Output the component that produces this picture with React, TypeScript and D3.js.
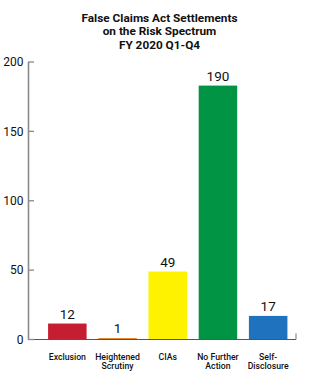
import React from "react";
import * as d3 from "d3";

const titleLines = ["False Claims Act Settlements", "on the Risk Spectrum", "FY 2020 Q1-Q4"];
const categories = ["Exclusion", "Heightened\nScrutiny", "CIAs", "No Further\nAction", "Self-\nDisclosure"];
const values = [11.5, 1, 49, 183, 17];
const valueLabels = ["12", "1", "49", "190", "17"];
const colors = ["#c41e30", "#e07a1c", "#fff200", "#009444", "#1f72bd"];
const yTicks = [0, 50, 100, 150, 200];

const W = 320;
const H = 376;

export default function App() {
  const x = d3
    .scaleBand<string>()
    .domain(categories)
    .range([28, 307.5])
    .paddingInner(0.233)
    .paddingOuter(0.4);
  const y = d3.scaleLinear().domain([0, 200]).range([339.5, 62]);
  const axisColor = "#8a8a8a";

  return (
    <svg
      width={W}
      height={H}
      style={{ position: "absolute", left: 0, top: 0, background: "#fff" }}
      fontFamily="Roboto, 'Noto Sans', sans-serif"
    >
      {titleLines.map((t, i) => (
        <text
          key={t}
          x={159.5}
          y={21.8 + i * 13.4}
          textAnchor="middle"
          fontSize={11.8}
          fontWeight={700}
          fill="#111"
        >
          {t}
        </text>
      ))}

      {categories.map((c, i) => (
        <rect
          key={c}
          x={x(c)}
          y={y(values[i])}
          width={x.bandwidth()}
          height={y(0) - y(values[i])}
          fill={colors[i]}
        />
      ))}

      {categories.map((c, i) => (
        <text
          key={"v" + c}
          x={(x(c) as number) + x.bandwidth() / 2}
          y={y(values[i]) - 5}
          textAnchor="middle"
          fontSize={13.5}
          fill="#111"
        >
          {valueLabels[i]}
        </text>
      ))}

      <line x1={28.5} x2={28.5} y1={y(200)} y2={y(0)} stroke={axisColor} strokeWidth={1.6} />
      <line x1={28} x2={296} y1={y(0)} y2={y(0)} stroke="#555" strokeWidth={1.2} />
      <line x1={296} x2={296} y1={y(0) - 6} y2={y(0)} stroke={axisColor} strokeWidth={1.2} />

      {yTicks.map((t) => (
        <g key={t}>
          <line x1={28} x2={34} y1={y(t)} y2={y(t)} stroke={axisColor} strokeWidth={1.3} />
          <text x={23.5} y={y(t) + 4.3} textAnchor="end" fontSize={12} fill="#111">
            {t}
          </text>
        </g>
      ))}

      {categories.map((c) => {
        const lines = c.split("\n");
        const cx = (x(c) as number) + x.bandwidth() / 2;
        return (
          <text key={"c" + c} textAnchor="middle" fontSize={8.7} fontWeight={500} fill="#111">
            {lines.map((l, j) => (
              <tspan key={j} x={cx} y={359.5 + j * 9.5}>
                {l}
              </tspan>
            ))}
          </text>
        );
      })}
    </svg>
  );
}
